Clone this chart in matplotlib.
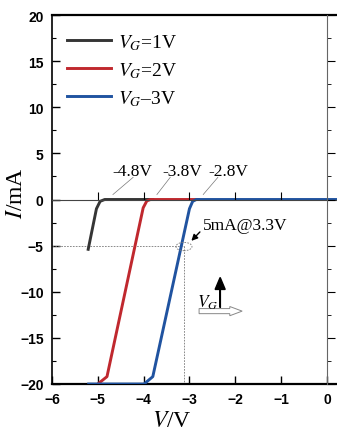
import numpy as np
import matplotlib
matplotlib.use("Agg")
import matplotlib.pyplot as plt
from matplotlib.patches import Ellipse, FancyArrow

plt.rcParams['mathtext.fontset'] = 'stix'
plt.rcParams['font.family'] = ['Liberation Serif', 'DejaVu Serif']

# curves (V, I in mA)
v_g1 = [-5.21, -5.03, -4.95, -4.85, -3.8]
i_g1 = [-5.4, -1.0, -0.2, 0.0, 0.0]
v_g2 = [-5.0, -4.8, -4.01, -3.93, -3.85, -2.8]
i_g2 = [-20.0, -19.2, -0.9, -0.15, 0.0, 0.0]
v_g3 = [-5.2, -3.99, -3.8, -3.0, -2.93, -2.85, 0.3]
i_g3 = [-20.0, -20.0, -19.2, -1.0, -0.2, 0.0, 0.0]

labels = ["$V_G$=1V", "$V_G$=2V", "$V_G$–3V"]
colores = ["#353535", "#c0282e", "#2053a0"]

umbrales = ["-4.8V", "-3.8V", "-2.8V"]
umbral_x = [-4.24, -3.16, -2.16]
guia_desde = [(-4.23, 2.4), (-3.42, 2.4), (-2.38, 2.4)]
guia_hasta = [(-4.67, 0.54), (-3.71, 0.54), (-2.70, 0.54)]

punto_v, punto_i = -3.13, -5.0

fig = plt.figure(figsize=(3.37, 4.31), dpi=100)
ax = fig.add_axes([52/337, 1 - 385/431, 285/337, 369/431])

for v, i, c, lab in zip([v_g1, v_g2, v_g3], [i_g1, i_g2, i_g3], colores, labels):
    ax.plot(v, i, color=c, lw=2.1, label=lab, solid_joinstyle='round', zorder=3)

ax.set_xlim(-6, 0.22)
ax.set_ylim(-20, 20)
ax.set_xticks([-6, -5, -4, -3, -2, -1, 0])
ax.set_yticks(np.arange(-20, 21, 5))
ax.set_yticks(np.arange(-17.5, 20, 5), minor=True)
ax.tick_params(axis='both', which='major', direction='in', length=6, width=1,
               labelsize=10, pad=6)
ax.tick_params(axis='y', which='minor', direction='in', length=3, width=0.8)
for t in ax.get_xticklabels() + ax.get_yticklabels():
    t.set_fontfamily('Liberation Sans')
    t.set_fontweight('bold')
ax.spines['right'].set_visible(False)
ax.spines['top'].set_linewidth(1.6)
ax.spines['bottom'].set_linewidth(1.6)
ax.spines['left'].set_linewidth(1.2)

# extra line at I = 0 with upward ticks
ax2 = ax.twiny()
ax2.set_xlim(ax.get_xlim())
ax2.spines['bottom'].set_position(('data', 0))
ax2.xaxis.set_ticks_position('bottom')
ax2.set_xticks([-5, -4, -3, -2, -1])
ax2.tick_params(axis='x', direction='in', length=6, width=0.8, labelbottom=False)
for s in ['top', 'left', 'right']:
    ax2.spines[s].set_visible(False)
ax2.spines['bottom'].set_linewidth(0.8)
ax2.spines['bottom'].set_color('#444444')

# extra line at V = 0 with ticks to the right
ax3 = ax.twinx()
ax3.set_ylim(ax.get_ylim())
ax3.spines['right'].set_position(('data', 0))
ax3.set_yticks(np.arange(-20, 21, 5))
ax3.set_yticks(np.arange(-17.5, 20, 5), minor=True)
ax3.tick_params(axis='y', which='major', direction='out', length=6, width=0.8, labelright=False)
ax3.tick_params(axis='y', which='minor', direction='out', length=3, width=0.6)
for s in ['top', 'left', 'bottom']:
    ax3.spines[s].set_visible(False)
ax3.spines['right'].set_linewidth(0.8)
ax3.spines['right'].set_color('#666666')

ax.set_xlabel("$V$/V", fontsize=17)
ax.set_ylabel("$I$/mA", fontsize=17)
ax.xaxis.set_label_coords(0.42, -0.07)
ax.yaxis.set_label_coords(-0.088, 0.52)

ax.legend(loc='upper left', bbox_to_anchor=(0.01, 0.985), frameon=False, fontsize=14,
          handlelength=2.3, handletextpad=0.35, labelspacing=0.42, borderaxespad=0.2)

# threshold labels
for txt, x, a, b in zip(umbrales, umbral_x, guia_desde, guia_hasta):
    ax.text(x, 2.7, txt, fontsize=12.5, ha='center', va='baseline')
    ax.plot([a[0], b[0]], [a[1], b[1]], color='#777777', lw=0.5)

# 5 mA point
ax.plot([-6, punto_v], [punto_i, punto_i], ls=(0, (2, 1.5)), color='#777777', lw=0.6)
ax.plot([punto_v, punto_v], [punto_i, -20], ls=(0, (2, 1.5)), color='#777777', lw=0.6)
ax.add_patch(Ellipse((-3.12, -5.1), 0.35, 0.9, fill=False, ls=(0, (2, 1.5)),
                     ec='#777777', lw=0.6, zorder=4))
ax.text(-2.70, -3.25, "5mA@3.3V", fontsize=12.5, ha='left', va='baseline')
ax.annotate('', xy=(-3.0, -4.7), xytext=(-2.73, -3.3),
            arrowprops=dict(arrowstyle='-|>', color='black', lw=1.0, mutation_scale=9))

# V_G sketch
ax.text(-2.83, -11.6, "$V_G$", fontsize=12.5, ha='left', va='baseline')
ax.add_patch(FancyArrow(-2.33, -11.7, 0, 3.25, width=0.01, head_width=0.22,
                        head_length=1.3, length_includes_head=True, color='black'))
ax.add_patch(FancyArrow(-2.79, -12.1, 0.94, 0, width=0.55, head_width=1.0,
                        head_length=0.27, length_includes_head=True,
                        fc='white', ec='#888888', lw=0.7))

fig.savefig("out.png", dpi=100)
